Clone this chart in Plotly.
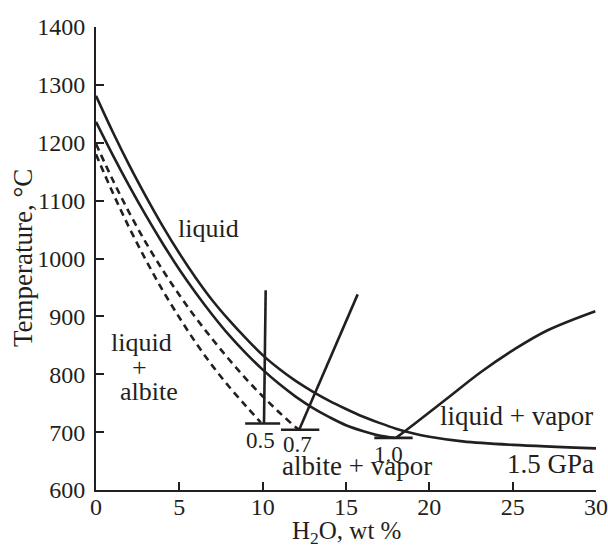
import plotly.graph_objects as go

# ---- data ----
# liquidus curves (H2O wt %, temperature °C) for each pressure
x_05 = [0, 1, 2, 3, 4, 5, 6, 7, 8, 9, 9.88]
T_05 = [1180, 1114, 1053, 997, 945, 898, 854, 814, 778, 745, 717]

x_07 = [0, 1, 2, 3, 4, 5, 6, 7, 8, 9, 10, 11, 12, 12.19]
T_07 = [1198, 1136, 1079, 1027, 980, 937, 897, 860, 825, 792, 762, 734, 708, 704]

x_10 = [0, 1, 2, 3, 4, 5, 6, 7, 8, 9, 10, 11, 12, 13, 14, 15, 16, 17, 17.9]
T_10 = [1236, 1179, 1125, 1074, 1026, 981, 940, 902, 867, 836, 808, 783, 761, 742, 726, 712, 702, 694, 690]

x_15 = [0, 1, 2, 3, 4, 5, 6, 7, 8, 9, 10, 11, 12, 13, 14, 15, 16, 17, 18, 19, 20, 22, 25, 30]
T_15 = [1281, 1219, 1161, 1107, 1056, 1009, 966, 927, 893, 862, 833, 809, 788, 770, 754, 740, 727, 716, 706, 698, 692, 684, 678, 672]

# vapor-saturation boundaries
v05_x = [10.08, 10.18]
v05_T = [715, 945]
v07_x = [12.19, 15.7]
v07_T = [704, 938]
v10_x = [18.0, 19.1, 21.1, 23.1, 25.1, 27.1, 29.96]
v10_T = [690, 714, 759, 804, 843, 876, 909]

# solidus bars
bar_labels = ["0.5", "0.7", "1.0"]
bar_T = [715, 704, 690]
bar_x0 = [8.95, 11.1, 16.7]
bar_x1 = [11.05, 13.4, 19.0]

x_ticks = [0, 5, 10, 15, 20, 25, 30]
y_ticks = [600, 700, 800, 900, 1000, 1100, 1200, 1300, 1400]

INK = "#231f20"
FONT = "Liberation Serif"
LW = 2.6

fig = go.Figure()

def line(x, y, dash="solid", shape="spline"):
    fig.add_trace(go.Scatter(x=x, y=y, mode="lines", showlegend=False, hoverinfo="skip",
                             line=dict(color=INK, width=LW, dash=dash, shape=shape, smoothing=1.0)))

line(x_05, T_05, dash="7px,5px")
line(x_07, T_07, dash="7px,5px")
line(x_10, T_10)
line(x_15, T_15)
line(v05_x, v05_T, shape="linear")
line(v07_x, v07_T, shape="linear")
line(v10_x, v10_T)
for x0, x1, t in zip(bar_x0, bar_x1, bar_T):
    line([x0, x1], [t, t], shape="linear")

def ann(text, x, y, size=26, xanchor="center"):
    fig.add_annotation(x=x, y=y, text=text, showarrow=False, xanchor=xanchor, yanchor="middle",
                       font=dict(family=FONT, size=size, color=INK))

ann("liquid", 6.72, 1052)
ann("liquid", 2.71, 855)
ann("+", 2.59, 812)
ann("albite", 3.19, 770)
ann("liquid + vapor", 29.95, 728, size=27, xanchor="right")
ann("1.5 GPa", 30.0, 645, size=27, xanchor="right")
ann("albite + vapor", 15.66, 642, size=27)
for lab, x0, x1, t in zip(bar_labels, bar_x0, bar_x1, bar_T):
    pass
ann(bar_labels[0], 9.85, 686, size=23)
ann(bar_labels[1], 12.1, 679, size=23)
ann(bar_labels[2], 17.56, 661, size=23)

# axis titles
fig.add_annotation(xref="paper", yref="paper", x=0.5, y=-0.091, text="H<sub>2</sub>O, wt %",
                   showarrow=False, xanchor="center", yanchor="middle",
                   font=dict(family=FONT, size=25, color=INK))
fig.add_annotation(xref="paper", yref="paper", x=-0.146, y=0.501, text="Temperature, °C",
                   textangle=-90, showarrow=False, xanchor="center", yanchor="middle",
                   font=dict(family=FONT, size=27, color=INK))

fig.update_xaxes(range=[0, 30], tickvals=x_ticks, ticks="inside", ticklen=8, tickwidth=2,
                 tickcolor=INK, showline=True, linecolor=INK, linewidth=2, showgrid=False,
                 zeroline=False, ticklabelstandoff=-6, automargin=False,
                 tickfont=dict(family=FONT, size=24, color=INK))
fig.update_yaxes(range=[600, 1400], tickvals=y_ticks, ticks="inside", ticklen=8, tickwidth=2,
                 tickcolor=INK, showline=True, linecolor=INK, linewidth=2, showgrid=False,
                 zeroline=False, ticklabelstandoff=4, automargin=False,
                 tickfont=dict(family=FONT, size=24, color=INK))

fig.update_layout(width=608, height=546, margin=dict(l=96, r=12, t=27, b=56),
                  plot_bgcolor="white", paper_bgcolor="white")

fig.write_html("out.html")
